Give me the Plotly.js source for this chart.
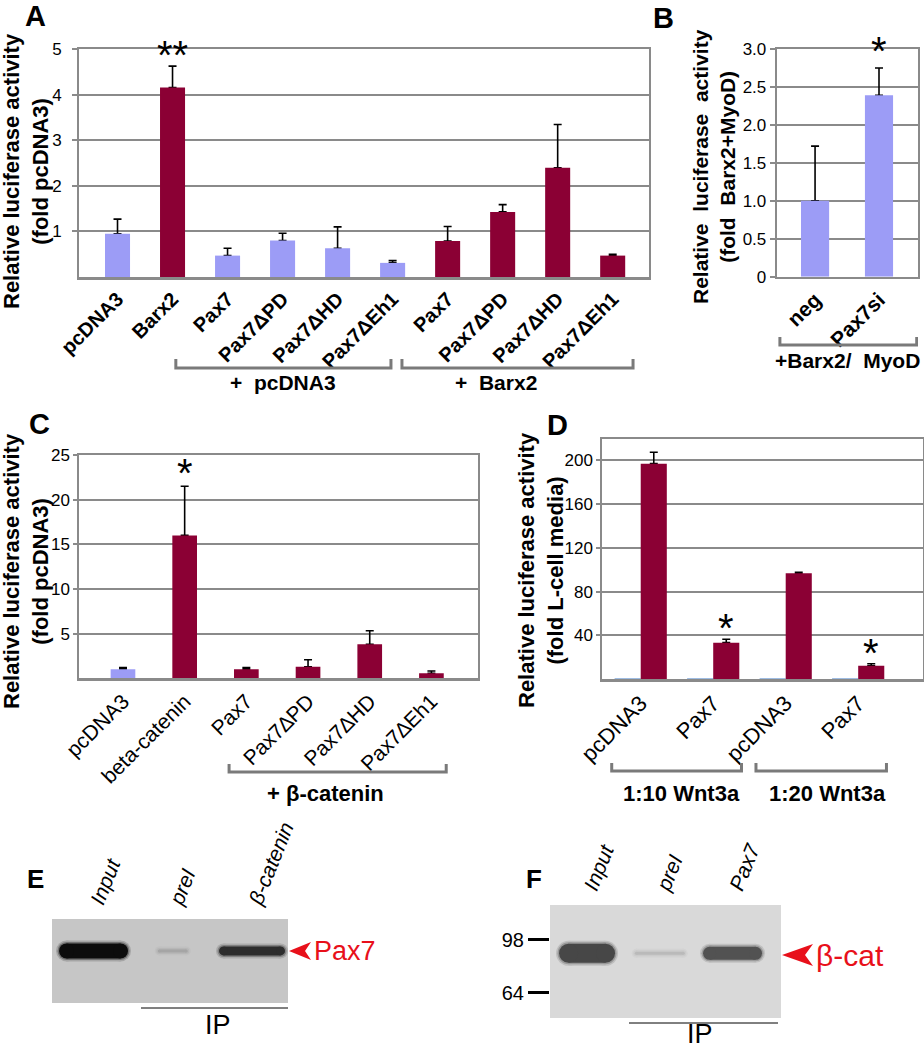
<!DOCTYPE html>
<html><head><meta charset="utf-8">
<script src="https://cdn.plot.ly/plotly-3.0.1.min.js"></script>
<style>html,body{margin:0;padding:0;background:#fff}#chart{width:924px;height:1050px}</style>
</head><body><div id="chart"></div>
<script>
// ================= DATA =================
// Panel A
const aCategories = ["pcDNA3","Barx2","Pax7","Pax7ΔPD","Pax7ΔHD","Pax7ΔEh1","Pax7","Pax7ΔPD","Pax7ΔHD","Pax7ΔEh1"];
const aCotransfected = ["none","none","pcDNA3","pcDNA3","pcDNA3","pcDNA3","Barx2","Barx2","Barx2","Barx2"];
const aValues = [0.95, 4.16, 0.47, 0.80, 0.63, 0.31, 0.79, 1.43, 2.40, 0.47];
const aErrors = [0.32, 0.47, 0.16, 0.16, 0.47, 0.05, 0.32, 0.16, 0.95, 0.03];
const aSignif = ["", "**", "", "", "", "", "", "", "", ""];
const aGroupLabels = ["+  pcDNA3", "+  Barx2"];
const aTicks = [1, 2, 3, 4, 5];

// Panel B
const bCategories = ["neg", "Pax7si"];
const bValues = [1.00, 2.39];
const bErrors = [0.72, 0.36];
const bSignif = ["", "*"];
const bGroupLabel = "+Barx2/\u00a0\u00a0MyoD";
const bTicks = [0, 0.5, 1.0, 1.5, 2.0, 2.5, 3.0];
const bTickText = ["0", "0.5", "1.0", "1.5", "2.0", "2.5", "3.0"];

// Panel C
const cCategories = ["pcDNA3","beta-catenin","Pax7","Pax7∆PD","Pax7∆HD","Pax7∆Eh1"];
const cHasBetaCatenin = [false, true, true, true, true, true];
const cValues = [1.0, 16.0, 1.0, 1.3, 3.8, 0.56];
const cErrors = [0.19, 5.5, 0.2, 0.78, 1.53, 0.26];
const cSignif = ["", "*", "", "", "", ""];
const cGroupLabel = "+ β-catenin";
const cTicks = [5, 10, 15, 20, 25];

// Panel D
const dCategories = ["pcDNA3", "Pax7", "pcDNA3", "Pax7"];
const dControl = [1, 1, 1, 1];
const dValues = [196.6, 33.4, 96.6, 12.4];
const dErrors = [10.4, 3.1, 0.9, 1.8];
const dSignif = ["", "*", "", "*"];
const dGroupLabels = ["1:10 Wnt3a", "1:20 Wnt3a"];
const dTicks = [40, 80, 120, 160, 200];

// Panel E (IP western blot, band darkness 0..1)
const eLanes = ["Input", "preI", "β-catenin"];
const eBandIntensity = [1.0, 0.18, 0.82];
// Panel F
const fLanes = ["Input", "preI", "Pax7"];
const fBandIntensity = [0.71, 0.15, 0.66];
const fMarkerKDa = [98, 64];
const fBandKDa = 88;

// ================= STYLE / LAYOUT =================
const W = 924, H = 1050;
const P = x => x / W, Q = y => 1 - y / H;
const FONT = '"Liberation Sans", Arial, Helvetica, sans-serif';
const NARROW = '"Liberation Sans Narrow", "Arial Narrow", "Liberation Sans", Arial, sans-serif';
const LAV = '#9c9cf6', MAR = '#8b0034', GRID = '#8a8a8a', CTRLBLUE = '#7ea6d8';
const idx = arr => arr.map((_, i) => i);
const zeros = arr => arr.map(() => 0);

const traces = [];
function barPair(xa, ya, x, y, err, colors, width, offset) {
  const base = {type: 'bar', x: x, y: y, width: width, xaxis: xa, yaxis: ya, hoverinfo: 'skip'};
  if (offset !== undefined) base.offset = offset;
  if (err) {
    traces.push(Object.assign({}, base, {
      marker: {color: 'rgba(0,0,0,0)'},
      error_y: {type: 'data', symmetric: false, array: err, arrayminus: zeros(err), color: '#000', thickness: 1.6, width: 4}
    }));
  }
  traces.push(Object.assign({}, base, {marker: {color: colors, line: {width: 0}}}));
}

// A
barPair('x', 'y', idx(aCategories), aValues, aErrors,
  aCategories.map((c, i) => (c === 'Barx2' || aCotransfected[i] === 'Barx2') ? MAR : LAV), 0.455);
// B
barPair('x2', 'y2', idx(bCategories), bValues, bErrors, bCategories.map(() => LAV), 0.44);
// C
barPair('x3', 'y3', idx(cCategories), cValues, cErrors, cHasBetaCatenin.map(b => b ? MAR : LAV), 0.40);
// D
barPair('x4', 'y4', idx(dCategories), dControl, null, dControl.map(() => CTRLBLUE), 0.36, -0.36);
barPair('x4', 'y4', idx(dCategories), dValues, dErrors, dValues.map(() => MAR), 0.36, 0);

// Blots
function gray(v) { v = Math.round(v); return `rgb(${v},${v},${v})`; }
function bands(xa, ya, intensities, bg, bandY, widthsPx, thickPx, pxPerUnit) {
  intensities.forEach((it, i) => {
    const lvl = bg - it * (bg - 12);
    const hl = Math.max(0, (widthsPx[i] - thickPx[i]) / 2 / pxPerUnit);
    const layers = [[thickPx[i] + 6, 0.18], [thickPx[i] + 3, 0.45], [thickPx[i], 1.0]];
    layers.forEach(([t, f]) => {
      const col = gray(bg - f * (bg - lvl));
      traces.push({type: 'scatter', mode: 'lines+markers', x: [i - hl, i + hl], y: [bandY, bandY],
        line: {color: col, width: t}, marker: {color: col, size: t}, xaxis: xa, yaxis: ya,
        hoverinfo: 'skip', cliponaxis: false});
    });
  });
}
const E_PX_PER_UNIT = 79.25, F_PX_PER_UNIT = 72.75;
bands('x5', 'y5', eBandIntensity, 198, 0.62, [69, 30, 66], [15, 3, 9], E_PX_PER_UNIT);
bands('x6', 'y6', fBandIntensity, 217, fBandKDa, [56, 50, 59], [19, 3, 13], F_PX_PER_UNIT);

function yAx(botPx, topPx, range, tickvals, ticktext, size, standoff, anchor, ticklen) {
  return {domain: [Q(botPx), Q(topPx)], range: range, tickmode: 'array', tickvals: tickvals,
    ticktext: ticktext || tickvals.map(String), ticks: 'outside', ticklen: ticklen || 5, tickwidth: 2,
    tickcolor: GRID, showgrid: true, gridcolor: GRID, gridwidth: 2, showline: true, linecolor: GRID,
    linewidth: 2, mirror: true, zeroline: false, anchor: anchor, fixedrange: true,
    ticklabelstandoff: standoff || 0,
    tickfont: {family: FONT, size: size, color: '#000'}};
}
function xAx(leftPx, rightPx, range, cats, size, weight, anchor) {
  return {domain: [P(leftPx), P(rightPx)], range: range, tickmode: 'array', tickvals: idx(cats),
    ticktext: cats, tickangle: -45, ticks: '', showgrid: false, showline: true, linecolor: GRID,
    linewidth: 2.5, mirror: true, zeroline: false, anchor: anchor, fixedrange: true,
    tickfont: {family: FONT, size: size, color: '#000', weight: weight}};
}
function laneAx(leftPx, rightPx, range, lanes, anchor) {
  return {domain: [P(leftPx), P(rightPx)], range: range, anchor: anchor, side: 'top', tickmode: 'array',
    tickvals: idx(lanes), ticktext: lanes, tickangle: -68, ticks: '', showgrid: false, showline: false,
    zeroline: false, fixedrange: true, ticklabelstandoff: 1,
    tickfont: {family: NARROW, size: 21, style: 'italic', color: '#000'}};
}

const layout = {
  width: W, height: H, margin: {l: 0, r: 0, t: 0, b: 0}, paper_bgcolor: '#fff', plot_bgcolor: 'rgba(0,0,0,0)',
  showlegend: false, barmode: 'overlay',
  xaxis: xAx(79, 649, [-0.7, 9.66], aCategories, 20, 'bold', 'y'),
  yaxis: yAx(277, 49.3, [0, 5], aTicks, null, 17, 7, 'x', 5),
  xaxis2: xAx(776.7, 918, [-0.6, 1.61], bCategories, 21, 'bold', 'y2'),
  yaxis2: yAx(276.7, 49, [0, 3], bTicks, bTickText, 17, 0, 'x2', 5),
  xaxis3: xAx(79.3, 478.3, [-0.708, 5.76], cCategories, 21, 'normal', 'y3'),
  yaxis3: yAx(678.3, 455, [0, 25], cTicks, null, 17, 0, 'x3', 4),
  xaxis4: xAx(602.3, 922.7, [-0.53, 3.89], dCategories, 22, 'normal', 'y4'),
  yaxis4: yAx(679.3, 439.3, [0, 218.8], dTicks, null, 17, 0, 'x4', 4),
  xaxis5: laneAx(52, 288, [-0.524, 2.454], eLanes, 'y5'),
  yaxis5: {domain: [Q(1003), Q(919)], range: [0, 1], anchor: 'x5', visible: false, fixedrange: true},
  xaxis6: laneAx(550, 781, [-0.509, 2.666], fLanes, 'y6'),
  yaxis6: {domain: [Q(1018), Q(905)], type: 'log', range: [Math.log10(52.3), Math.log10(129.8)], anchor: 'x6',
    tickmode: 'array', tickvals: fMarkerKDa, ticktext: fMarkerKDa.map(String), ticks: 'outside', ticklen: 21,
    tickwidth: 3, tickcolor: '#000', showline: false, showgrid: false, zeroline: false, fixedrange: true,
    tickfont: {family: NARROW, size: 20, color: '#000'}},
  shapes: [], annotations: []
};

// blot backgrounds
layout.shapes.push({type: 'rect', xref: 'x5 domain', yref: 'y5 domain', x0: 0, x1: 1, y0: 0, y1: 1,
  fillcolor: gray(198), line: {width: 0}, layer: 'below'});
layout.shapes.push({type: 'rect', xref: 'x6 domain', yref: 'y6 domain', x0: 0, x1: 1, y0: 0, y1: 1,
  fillcolor: gray(217), line: {width: 0}, layer: 'below'});

// brackets (x in axis units, y in page pixels)
function bracket(xref, x0, x1, yPx, h) {
  layout.shapes.push({type: 'path', xref: xref, yref: 'paper',
    path: `M ${x0},${Q(yPx - h)} L ${x0},${Q(yPx)} L ${x1},${Q(yPx)} L ${x1},${Q(yPx - h)}`,
    line: {color: '#7a7a7a', width: 3}});
}
function groupLabel(xref, x, yPx, text, size) {
  layout.annotations.push({xref: xref, yref: 'paper', x: x, y: Q(yPx), text: text, showarrow: false,
    xanchor: 'center', yanchor: 'middle', font: {family: FONT, size: size, color: '#000', weight: 'bold'}});
}
bracket('x', 1.06, 4.97, 368, 9); groupLabel('x', 3.01, 382, aGroupLabels[0], 21);
bracket('x', 5.17, 9.37, 368, 9); groupLabel('x', 6.88, 382, aGroupLabels[1], 21);
bracket('x2', -0.55, 1.59, 345, 8); groupLabel('x2', 0.5, 360, bGroupLabel, 21);
bracket('x3', 1.72, 5.24, 772, 8); groupLabel('x3', 3.29, 793, cGroupLabel, 22);
bracket('x4', -0.40, 1.39, 771, 8); groupLabel('x4', 0.565, 793, dGroupLabels[0], 22);
bracket('x4', 1.59, 3.39, 771, 8); groupLabel('x4', 2.58, 793, dGroupLabels[1], 22);

// y titles
function yTitle(xPx, yPx, text, size) {
  layout.annotations.push({xref: 'paper', yref: 'paper', x: P(xPx), y: Q(yPx), text: text, textangle: -90,
    showarrow: false, xanchor: 'center', yanchor: 'middle',
    font: {family: FONT, size: size, color: '#000', weight: 'bold'}});
}
yTitle(26, 171, 'Relative luciferase activity<br>(fold pcDNA3)', 22);
yTitle(714, 167, 'Relative\u00a0\u00a0luciferase\u00a0\u00a0activity<br>(fold\u00a0\u00a0Barx2+MyoD)', 21);
yTitle(26, 571, 'Relative luciferase activity<br>(fold pcDNA3)', 22);
yTitle(541, 570, 'Relative luciferase activity<br>(fold L-cell media)', 22);

// panel letters
[['A', 35, 16, 29], ['B', 663, 18, 29], ['C', 39, 424, 29], ['D', 557, 425, 29], ['E', 35, 879, 26], ['F', 534, 879, 26]]
  .forEach(([t, x, y, s]) => layout.annotations.push({xref: 'paper', yref: 'paper', x: P(x), y: Q(y), text: t,
    showarrow: false, xanchor: 'center', yanchor: 'middle', font: {family: FONT, size: s, color: '#000', weight: 'bold'}}));

// significance asterisks
function stars(xref, yref, sig, vals, errs, gapPx, xOff) {
  sig.forEach((s, i) => {
    if (!s) return;
    layout.annotations.push({xref: xref, yref: yref, x: i + (xOff || 0), y: vals[i] + errs[i], text: s,
      showarrow: false, xanchor: 'center', yanchor: 'bottom', yshift: -16 + gapPx,
      font: {family: FONT, size: 40, color: '#000'}});
  });
}
stars('x', 'y', aSignif, aValues, aErrors, 3);
stars('x2', 'y2', bSignif, bValues, bErrors, 9);
stars('x3', 'y3', cSignif, cValues, cErrors, 5);
stars('x4', 'y4', dSignif, dValues, dErrors, 3, 0.18);

// blot arrows and labels
function redArrow(tipX, tipY, len, half, notch) {
  layout.shapes.push({type: 'path', xref: 'paper', yref: 'paper',
    path: `M ${P(tipX)},${Q(tipY)} L ${P(tipX + len)},${Q(tipY - half)} L ${P(tipX + len - notch)},${Q(tipY)} L ${P(tipX + len)},${Q(tipY + half)} Z`,
    fillcolor: '#e8101a', line: {width: 0}});
}
redArrow(289, 951, 22, 9, 6);
redArrow(782, 955, 31, 11, 8);
layout.annotations.push({xref: 'paper', yref: 'paper', x: P(312), y: Q(951), text: 'Pax7', showarrow: false,
  xanchor: 'left', yanchor: 'middle', font: {family: NARROW, size: 27, color: '#e8101a'}});
layout.annotations.push({xref: 'paper', yref: 'paper', x: P(814), y: Q(955), text: 'β-cat', showarrow: false,
  xanchor: 'left', yanchor: 'middle', font: {family: NARROW, size: 30, color: '#e8101a'}});
// IP lines
[[141, 288, 1008, 218, 1025], [629, 778, 1023, 700, 1034]].forEach(([x0, x1, y, tx, ty]) => {
  layout.shapes.push({type: 'line', xref: 'paper', yref: 'paper', x0: P(x0), x1: P(x1), y0: Q(y), y1: Q(y),
    line: {color: '#000', width: 1}});
  layout.annotations.push({xref: 'paper', yref: 'paper', x: P(tx), y: Q(ty), text: 'IP', showarrow: false,
    xanchor: 'center', yanchor: 'middle', font: {family: NARROW, size: 27, color: '#000'}});
});

Plotly.newPlot('chart', traces, layout, {staticPlot: true, displayModeBar: false});
</script>
</body></html>
